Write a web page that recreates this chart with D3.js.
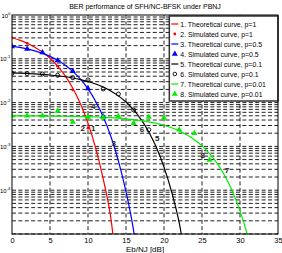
<!DOCTYPE html>
<html>
<head>
<meta charset="utf-8">
<script src="https://cdn.jsdelivr.net/npm/d3@7"></script>
<style>
  body { margin: 0; background: #fff; }
  svg { display: block; font-family: "Liberation Sans", Arial, sans-serif; }
</style>
</head>
<body>
<div id="chart"></div>
<script>
// Eb/NJ values (dB) for the theoretical curves
var ebnjTheory = [0, 1, 2, 3, 4, 5, 6, 7, 8, 9, 10, 11, 12, 13, 14, 15, 16, 17, 18, 19, 20, 21, 22, 23, 24, 25, 26, 27, 28, 29, 30, 31, 31.5];

// theoretical BER
var theoryP1 = [0.3033, 0.2665, 0.2264, 0.1844, 0.1424, 0.1029, 0.0683, 0.0408, 0.02132, 0.00942, 0.003369, 9.23e-4, 1.81e-4, 2.33e-5, 6.9e-7];
var theoryP05 = [0.1947, 0.1825, 0.1682, 0.1518, 0.1334, 0.1134, 0.0924, 0.0714, 0.0516, 0.0343, 0.0205, 0.01074, 0.004754, 0.001706, 4.69e-4, 9.22e-5, 1.19e-5, 6.0e-7];
var theoryP01 = [0.04756, 0.04695, 0.04619, 0.04525, 0.0441, 0.04269, 0.04098, 0.03892, 0.03647, 0.03361, 0.03033, 0.02665, 0.02264, 0.01844, 0.01424, 0.01029, 0.00683, 0.00408, 0.002132, 9.42e-4, 3.37e-4, 9.23e-5, 1.81e-5, 1.7e-6];
var theoryP001 = [0.004975, 0.004969, 0.004961, 0.004951, 0.004938, 0.004921, 0.004901, 0.004876, 0.004845, 0.004806, 0.004756, 0.004694, 0.004619, 0.004525, 0.00441, 0.004269, 0.004098, 0.003892, 0.003647, 0.003361, 0.003033, 0.002665, 0.002264, 0.001844, 0.001424, 0.001029, 6.83e-4, 4.08e-4, 2.13e-4, 9.42e-5, 3.37e-5, 9.23e-6, 4.3e-6];

// simulated points (Eb/NJ in dB)
var ebnjSim = [0, 2, 4, 6, 8, 10, 12, 14, 16, 18, 20, 22, 24, 26];
var simP1 = [0.30, 0.225, 0.14, 0.068, 0.0195, 0.0026];
var simP05 = [0.19, 0.168, 0.14, 0.092, 0.052, 0.021, 0.0048];
var simP01 = [0.047, 0.046, 0.045, 0.042, 0.037, 0.033, 0.0205, 0.0157, 0.0068, 0.0024];
var simP001 = [0.005, 0.005, 0.005, 0.0064, 0.0036, 0.0047, 0.0046, 0.0049, 0.0034, 0.0047, 0.0045, 0.0024, 0.002, 0.00049];

var legendLabels = [
  "1. Theoretical curve, p=1",
  "2. Simulated curve, p=1",
  "3. Theoretical curve, p=0.5",
  "4. Simulated curve, p=0.5",
  "5. Theoretical curve, p=0.1",
  "6. Simulated curve, p=0.1",
  "7. Theoretical curve, p=0.01",
  "8. Simulated curve, p=0.01"
];

// curve number annotations: [label, dB, BER]
var curveTags = [
  ["1", 10.7, 2.6e-3],
  ["2", 9.3, 2.6e-3],
  ["3", 13.4, 1.2e-3],
  ["4", 10.7, 8.3e-3],
  ["5", 19.1, 1.55e-3],
  ["6", 17.1, 2.5e-3],
  ["7", 28.3, 2.9e-4],
  ["8", 25.1, 6.3e-4]
];

var xTicks = [0, 5, 10, 15, 20, 25, 30, 35];
var yDecades = [0, -1, -2, -3, -4, -5];

var svgWidth = 282, svgHeight = 253;
var margin = { top: 15, right: 4, bottom: 19, left: 12 };
var width = svgWidth - margin.left - margin.right;
var height = svgHeight - margin.top - margin.bottom;

var svg = d3.select("#chart").append("svg")
  .attr("width", svgWidth)
  .attr("height", svgHeight);

var g = svg.append("g")
  .attr("transform", `translate(${margin.left}, ${margin.top})`);

var x = d3.scaleLinear().domain([0, 35]).range([0, width]);
var y = d3.scaleLog().domain([1e-5, 1]).range([height, 0]);

g.append("defs").append("clipPath").attr("id", "clip")
  .append("rect").attr("width", width).attr("height", height);

// grid lines (major + minor decades)
var yGrid = [];
yDecades.forEach(function(e) {
  if (e < 0) {
    for (var m = 1; m < 10; m++) yGrid.push(m * Math.pow(10, e));
  }
});

g.selectAll(".ygrid")
  .data(yGrid)
  .enter().append("line")
  .attr("x1", 0).attr("x2", width)
  .attr("y1", d => y(d)).attr("y2", d => y(d))
  .attr("stroke", "#222")
  .attr("stroke-width", 1)
  .attr("stroke-dasharray", "4,2.4");

g.selectAll(".xgrid")
  .data(xTicks.slice(1, -1))
  .enter().append("line")
  .attr("x1", d => x(d)).attr("x2", d => x(d))
  .attr("y1", 0).attr("y2", height)
  .attr("stroke", "#222")
  .attr("stroke-width", 1)
  .attr("stroke-dasharray", "4,2.4");

// axes
var bottomAxis = d3.axisBottom(x).tickValues(xTicks).tickSize(0).tickPadding(4);
var xAxis = g.append("g")
  .attr("transform", `translate(0, ${height})`)
  .call(bottomAxis);
xAxis.select(".domain").remove();
xAxis.selectAll("text").attr("font-size", 7.5).attr("fill", "#000")
  .attr("font-family", "Liberation Sans, Arial, sans-serif");

// y tick labels 10^k
var yLab = g.selectAll(".ylab")
  .data(yDecades.slice(0, -1))
  .enter().append("text")
  .attr("x", -1.5)
  .attr("y", d => y(Math.pow(10, d)) + 2.5)
  .attr("text-anchor", "end")
  .attr("font-size", 6)
  .attr("fill", "#000");
yLab.append("tspan").text("10");
yLab.append("tspan").attr("dy", -3).attr("font-size", 4.3).text(d => d);

// curves
var line = d3.line()
  .x(d => x(d[0]))
  .y(d => y(d[1]))
  .curve(d3.curveMonotoneX);

var plot = g.append("g").attr("clip-path", "url(#clip)");

var theory = [
  { vals: theoryP1, color: "#ff0000" },
  { vals: theoryP05, color: "#0000ff" },
  { vals: theoryP01, color: "#000000" },
  { vals: theoryP001, color: "#00ee00" }
];

theory.forEach(function(s) {
  var pts = s.vals.map((v, i) => [ebnjTheory[i], v]);
  plot.append("path")
    .datum(pts)
    .attr("fill", "none")
    .attr("stroke", s.color)
    .attr("stroke-width", 1.2)
    .attr("d", line);
});

var tri = d3.symbol().type(d3.symbolTriangle).size(16);

function simPts(vals) {
  return vals.map((v, i) => [ebnjSim[i], v]);
}

plot.selectAll(".sim1")
  .data(simPts(simP1))
  .enter().append("circle")
  .attr("cx", d => x(d[0])).attr("cy", d => y(d[1]))
  .attr("r", 1.4).attr("fill", "#ff0000");

plot.selectAll(".sim05")
  .data(simPts(simP05))
  .enter().append("path")
  .attr("d", tri)
  .attr("transform", d => `translate(${x(d[0])},${y(d[1])})`)
  .attr("fill", "#0000ff");

plot.selectAll(".sim01")
  .data(simPts(simP01))
  .enter().append("circle")
  .attr("cx", d => x(d[0])).attr("cy", d => y(d[1]))
  .attr("r", 2).attr("fill", "none")
  .attr("stroke", "#000").attr("stroke-width", 0.9);

plot.selectAll(".sim001")
  .data(simPts(simP001))
  .enter().append("path")
  .attr("d", tri)
  .attr("transform", d => `translate(${x(d[0])},${y(d[1])})`)
  .attr("fill", "#00ee00");

// curve numbers
g.selectAll(".tag")
  .data(curveTags)
  .enter().append("text")
  .attr("x", d => x(d[1]))
  .attr("y", d => y(d[2]) + 3)
  .attr("text-anchor", "middle")
  .attr("font-size", 8)
  .attr("font-weight", "bold")
  .attr("fill", "#222")
  .text(d => d[0]);

// legend
var lg = g.append("g").attr("transform", `translate(${x(20.7)}, 1)`);
lg.append("rect")
  .attr("width", width - x(20.7))
  .attr("height", 85)
  .attr("fill", "#fff")
  .attr("stroke", "#333")
  .attr("stroke-width", 1.5);

var legendStyle = [
  { kind: "line", color: "#ff0000" },
  { kind: "dot", color: "#ff0000" },
  { kind: "line", color: "#0000ff" },
  { kind: "tri", color: "#0000ff" },
  { kind: "line", color: "#000000" },
  { kind: "circle", color: "#000000" },
  { kind: "line", color: "#00ee00" },
  { kind: "tri", color: "#00ee00" }
];

legendLabels.forEach(function(label, i) {
  var ly = 8 + i * 10;
  var st = legendStyle[i];
  if (st.kind === "line") {
    lg.append("line").attr("x1", 2).attr("x2", 9).attr("y1", ly).attr("y2", ly)
      .attr("stroke", st.color).attr("stroke-width", 1.2);
  } else if (st.kind === "dot") {
    lg.append("circle").attr("cx", 5.5).attr("cy", ly).attr("r", 1.4).attr("fill", st.color);
  } else if (st.kind === "tri") {
    lg.append("path").attr("d", tri).attr("transform", `translate(5.5,${ly})`).attr("fill", st.color);
  } else {
    lg.append("circle").attr("cx", 5.5).attr("cy", ly).attr("r", 1.8)
      .attr("fill", "none").attr("stroke", st.color).attr("stroke-width", 0.9);
  }
  lg.append("text")
    .attr("x", 11)
    .attr("y", ly + 2.5)
    .attr("font-size", 6.9)
    .attr("fill", "#000")
    .text(label);
});

// plot border
g.append("rect")
  .attr("width", width).attr("height", height)
  .attr("fill", "none")
  .attr("stroke", "#000")
  .attr("stroke-width", 1);

// title and x label
svg.append("text")
  .attr("x", margin.left + width / 2)
  .attr("y", 9)
  .attr("text-anchor", "middle")
  .attr("font-size", 7)
  .text("BER performance of SFH/NC-BFSK under PBNJ");

svg.append("text")
  .attr("x", margin.left + width / 2)
  .attr("y", 252)
  .attr("text-anchor", "middle")
  .attr("font-size", 8)
  .text("Eb/NJ [dB]");
</script>
</body>
</html>
